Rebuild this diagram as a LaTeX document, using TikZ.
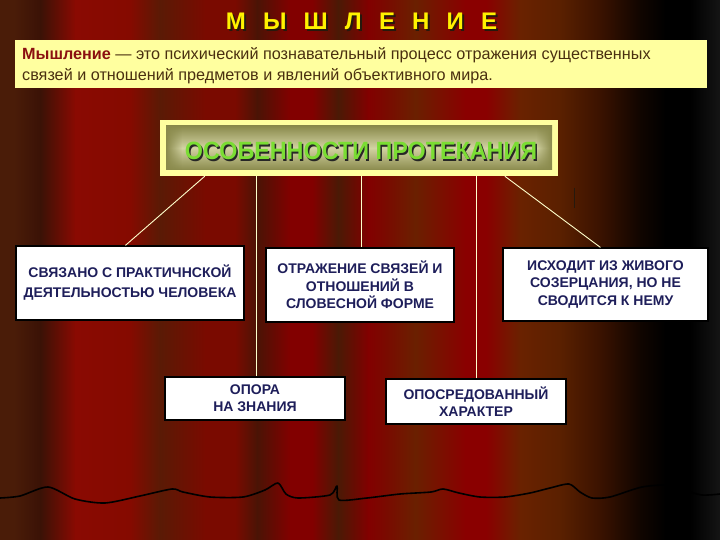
\documentclass[tikz,border=0pt]{standalone}
\usepackage{fontspec}
\setmainfont{Liberation Sans}
\usetikzlibrary{fadings}
\definecolor{boxtxt}{HTML}{1E1E5A}
\definecolor{defred}{HTML}{8B1010}
\definecolor{deftxt}{HTML}{4A3010}
\definecolor{lemon}{HTML}{FFFF9F}
\definecolor{olivedark}{HTML}{8A8A4C}
\definecolor{olivelight}{HTML}{D2D2A2}
\definecolor{hdrgreen}{HTML}{7ADD33}
\definecolor{linecol}{HTML}{FFFFCC}
\definecolor{s0}{HTML}{4A1C08}
\definecolor{s1}{HTML}{3A1206}
\definecolor{s2}{HTML}{8A0A02}
\definecolor{s3}{HTML}{850A00}
\definecolor{s4}{HTML}{5A1A05}
\definecolor{s5}{HTML}{7A0A00}
\definecolor{s6}{HTML}{4A1405}
\definecolor{s7}{HTML}{820000}
\definecolor{s8}{HTML}{4A1A05}
\definecolor{s9}{HTML}{6A2000}
\definecolor{s10}{HTML}{8A0000}
\definecolor{s11}{HTML}{6A2200}
\definecolor{s12}{HTML}{5A2000}
\definecolor{s13}{HTML}{3A1200}
\definecolor{s14}{HTML}{100500}
\definecolor{s15}{HTML}{000000}
\definecolor{s16}{HTML}{151515}
\begin{document}
\begin{tikzpicture}[x=1pt,y=-1pt,
  wbox/.style={draw=black, line width=1.2pt, fill=white, align=center, text=boxtxt,
    font=\bfseries\fontsize{14}{17.5}\selectfont, inner sep=0pt},
  conn/.style={draw=linecol, line width=0.9pt}]
\path[use as bounding box] (0,0) rectangle (720,540);
% curtain background
\foreach \xa/\ca/\xb/\cb in {0/s0/14/s0, 14/s0/40/s1, 40/s1/75/s2, 75/s2/130/s3, 130/s3/160/s4,
  160/s4/205/s5, 205/s5/235/s5, 235/s5/257/s6, 257/s6/290/s7, 290/s7/312/s7, 312/s7/338/s8,
  338/s8/368/s7, 368/s7/385/s5, 385/s5/415/s9, 415/s9/465/s10, 465/s10/486/s10, 486/s10/520/s11,
  520/s11/560/s12, 560/s12/600/s13, 600/s13/640/s14, 640/s14/665/s15, 665/s15/690/s15, 690/s15/720/s16}
  \shade[left color=\ca, right color=\cb] (\xa,0) rectangle (\xb+0.6,540);
% title
\node[text=black!80!brown, font=\bfseries\fontsize{24}{24}\selectfont] at (363.5,23.5)
  {М\hspace{10.5pt} Ы\hspace{10.5pt} Ш\hspace{10.5pt} Л\hspace{10.5pt} Е\hspace{10.5pt} Н\hspace{10.5pt} И\hspace{10.5pt} Е};
\node[text=yellow, font=\bfseries\fontsize{24}{24}\selectfont] (title) at (361.5,21.5)
  {М\hspace{10.5pt} Ы\hspace{10.5pt} Ш\hspace{10.5pt} Л\hspace{10.5pt} Е\hspace{10.5pt} Н\hspace{10.5pt} И\hspace{10.5pt} Е};
% definition
\node[fill=lemon, minimum width=692pt, minimum height=48pt, inner sep=0pt] (defbox) at (361,64) {};
\node[anchor=base west, text=deftxt, font=\fontsize{16.2}{21}\selectfont, inner sep=0pt] (def1) at (22,60)
  {{\bfseries\color{defred}Мышление} — это психический познавательный процесс отражения существенных};
\node[anchor=base west, text=deftxt, font=\fontsize{16.2}{21}\selectfont, inner sep=0pt] (def2) at (22,81)
  {связей и отношений предметов и явлений объективного мира.};
% header box
\node[fill=lemon, minimum width=398pt, minimum height=56pt, inner sep=0pt] (hdr) at (359,148) {};
\shade[top color=olivedark, bottom color=olivedark, middle color=olivelight] (166,126) rectangle (552,170);
\fill[olivedark, path fading=east] (166,126) rectangle (182,170);
\fill[olivedark, path fading=west] (536,126) rectangle (552,170);
\node[text=black!85, font=\bfseries\fontsize{25}{25}\selectfont] at (362.5,152.5) {\scalebox{0.934}[1]{ОСОБЕННОСТИ ПРОТЕКАНИЯ}};
\node[text=hdrgreen, font=\bfseries\fontsize{25}{25}\selectfont] (hdrtext) at (361,151) {\scalebox{0.934}[1]{ОСОБЕННОСТИ ПРОТЕКАНИЯ}};
% boxes
\node[wbox, minimum width=228pt, minimum height=74pt, font=\bfseries\fontsize{14}{20}\selectfont] (b1) at (130,283)
  {СВЯЗАНО С ПРАКТИЧНСКОЙ\\ДЕЯТЕЛЬНОСТЬЮ ЧЕЛОВЕКА};
\node[wbox, minimum width=188pt, minimum height=74pt] (b2) at (360,285)
  {ОТРАЖЕНИЕ СВЯЗЕЙ И\\ОТНОШЕНИЙ В\\СЛОВЕСНОЙ ФОРМЕ};
\node[wbox, minimum width=205pt, minimum height=73pt] (b3) at (605.5,284.5)
  {ИСХОДИТ ИЗ ЖИВОГО\\СОЗЕРЦАНИЯ, НО НЕ\\СВОДИТСЯ К НЕМУ};
\node[wbox, minimum width=180pt, minimum height=43pt, font=\bfseries\fontsize{14}{17}\selectfont] (b4) at (255,398.5)
  {ОПОРА\\НА ЗНАНИЯ};
\node[wbox, minimum width=180pt, minimum height=45pt, font=\bfseries\fontsize{14}{16.5}\selectfont] (b5) at (476,401.5)
  {ОПОСРЕДОВАННЫЙ\\ХАРАКТЕР};
% connectors
\draw[conn] ([xshift=45pt]hdr.south west) -- ([xshift=110pt]b1.north west);
\draw[conn] ([xshift=97pt]hdr.south west) -- ([xshift=97pt]hdr.south west |- b4.north);
\draw[conn] ([xshift=202pt]hdr.south west) -- ([xshift=202pt]hdr.south west |- b2.north);
\draw[conn] (b5.north) -- (b5.north |- hdr.south);
\draw[conn] ([xshift=345pt]hdr.south west) -- ([xshift=98pt]b3.north west);
% stray mark
\draw[color=black!80!brown, line width=1pt] (574,188) -- (574,208);
% curtain hem
\draw[line width=1.6pt, black, line join=round] plot[smooth, tension=0.45] coordinates {
  (0,498) (20,496) (48,487) (75,499) (105,503) (140,496) (172,489) (183,492) (210,497) (243,497)
  (265,490) (278,483) (286,494) (298,498) (330,495) (337,486) (339,500) (367,498) (400,494)
  (431,492) (443,489) (459,493) (480,497) (505,497) (530,493) (550,488) (569,484) (580,492)
  (592,498) (610,497) (642,487) (670,485) (683,490) (702,495) (720,494)};
\end{tikzpicture}
\end{document}
